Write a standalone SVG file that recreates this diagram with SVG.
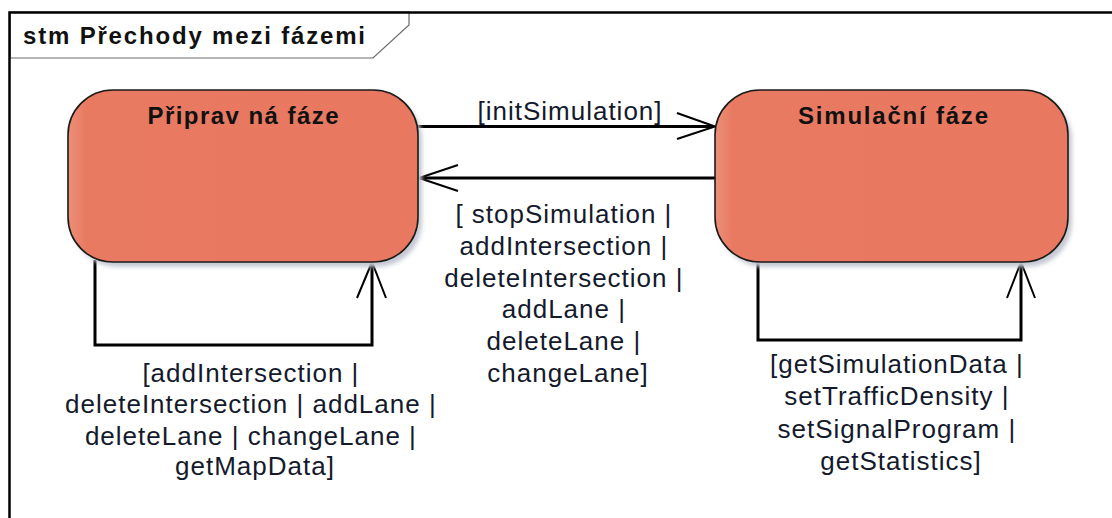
<svg xmlns="http://www.w3.org/2000/svg" width="1112" height="518" viewBox="0 0 1112 518">
  <style>
    .frame { fill: none; stroke: #000; stroke-width: 2.5; }
    .hdr { fill: #fff; stroke: #6a6a6a; stroke-width: 1.2; }
    .hdrtxt { font-family: "Liberation Sans", Arial, sans-serif; font-weight: bold; font-size: 24px; fill: #111; }
    .state { fill: url(#stateFill); stroke: #1a1a1a; stroke-width: 1.6; }
    .shadow { fill: #c4c9d2; }
    .title { font-family: "Liberation Sans", Arial, sans-serif; font-weight: bold; font-size: 24px; fill: #111; text-anchor: middle; }
    .conn { fill: none; stroke: #000; stroke-width: 3; }
    .head { fill: none; stroke: #000; stroke-width: 2; }
    .lbl { font-family: "Liberation Sans", Arial, sans-serif; font-size: 26px; letter-spacing: 1px; fill: #141a2c; text-anchor: middle; }
  </style>
  <defs>
    <linearGradient id="stateFill" x1="0" y1="0" x2="1" y2="0">
      <stop offset="0" stop-color="#eb9078"/>
      <stop offset="0.05" stop-color="#e97a62"/>
      <stop offset="1" stop-color="#e8785f"/>
    </linearGradient>
    <filter id="blur" x="-10%" y="-10%" width="120%" height="120%">
      <feGaussianBlur stdDeviation="2"/>
    </filter>
  </defs>

  <rect width="1112" height="518" fill="#fff"/>

  <g id="frame">
    <polygon class="hdr" points="10,12 409,12 409,25 373,58 10,58"/>
    <path class="frame" d="M9.5,518 V12.5 H1112"/>
    <text class="hdrtxt" x="23" y="44" textLength="342" lengthAdjust="spacing">stm Přechody mezi fázemi</text>
  </g>

  <g id="connectors">
    <!-- initSimulation -->
    <path class="conn" d="M418,126.5 H714"/>
    <path class="head" d="M677,113 L715,126.5 L677,139"/>
    <!-- back transition -->
    <path class="conn" d="M715,178 H420"/>
    <path class="head" d="M458,165 L419,178 L458,191"/>
    <!-- self loop left -->
    <path class="conn" d="M95,260 V345 H372 V264"/>
    <path class="head" d="M357,298 L372,262 L386,298"/>
    <!-- self loop right -->
    <path class="conn" d="M758,261 V340 H1021 V264"/>
    <path class="head" d="M1007,298 L1021,262 L1035,298"/>

    <text class="lbl" x="570" y="120">[initSimulation]</text>

    <text class="lbl" x="568">
      <tspan x="568" y="223">[ stopSimulation |</tspan>
      <tspan x="568" y="254.8">addIntersection |</tspan>
      <tspan x="568" y="286.6">deleteIntersection |</tspan>
      <tspan x="568" y="318.4">addLane |</tspan>
      <tspan x="568" y="350.2">deleteLane |</tspan>
      <tspan x="568" y="382">changeLane]</tspan>
    </text>

    <text class="lbl" x="255">
      <tspan x="255" y="382">[addIntersection |</tspan>
      <tspan x="255" y="413">deleteIntersection | addLane |</tspan>
      <tspan x="255" y="445">deleteLane | changeLane |</tspan>
      <tspan x="255" y="475">getMapData]</tspan>
    </text>

    <text class="lbl" x="901">
      <tspan x="901" y="373">[getSimulationData |</tspan>
      <tspan x="901" y="405">setTrafficDensity |</tspan>
      <tspan x="901" y="438">setSignalProgram |</tspan>
      <tspan x="901" y="470">getStatistics]</tspan>
    </text>
  </g>

  <g id="pripravna">
    <rect class="shadow" x="72" y="95" width="350" height="172" rx="45" ry="45" filter="url(#blur)"/>
    <rect class="state" x="68" y="90" width="350" height="172" rx="45" ry="45"/>
    <text class="title" x="243" y="124" textLength="191" lengthAdjust="spacing">Připrav ná fáze</text>
  </g>

  <g id="simulacni">
    <rect class="shadow" x="719" y="95" width="353" height="172" rx="45" ry="45" filter="url(#blur)"/>
    <rect class="state" x="715" y="90" width="353" height="172" rx="45" ry="45"/>
    <text class="title" x="893" y="124" textLength="190" lengthAdjust="spacing">Simulační fáze</text>
  </g>
</svg>
